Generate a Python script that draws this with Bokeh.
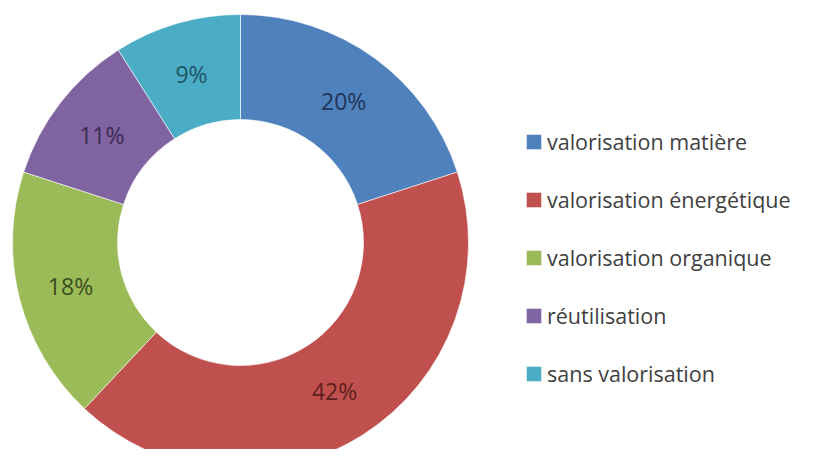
import math
from bokeh.plotting import figure
from bokeh.models import ColumnDataSource, Range1d, Legend, LegendItem
from bokeh.core.properties import value
from bokeh.embed import file_html
from bokeh.resources import INLINE

categories = ["valorisation matière", "valorisation énergétique", "valorisation organique",
              "réutilisation", "sans valorisation"]
values = [20, 42, 18, 11, 9]
colors = ["#4F81BD", "#C0504D", "#9BBB59", "#8064A2", "#4BACC6"]
label_colors = ["#1F3558", "#5E1F1D", "#3B4D1E", "#3A2A4E", "#1F5563"]

W, H = 797, 449
cx, cy = 240, 242
R_OUT, R_IN = 228, 123

total = sum(values)
starts, ends, lx, ly, texts = [], [], [], [], []
cum = 0.0
for v in values:
    a0 = math.pi / 2 - 2 * math.pi * cum / total
    a1 = math.pi / 2 - 2 * math.pi * (cum + v) / total
    mid = (a0 + a1) / 2
    starts.append(a0)
    ends.append(a1)
    r_mid = (R_OUT + R_IN) / 2
    lx.append(r_mid * math.cos(mid))
    ly.append(r_mid * math.sin(mid))
    texts.append(f"{v}%")
    cum += v

src = ColumnDataSource(dict(cat=categories, val=values, color=colors, start=starts, end=ends,
                            lx=lx, ly=ly, txt=texts, lcolor=label_colors))

p = figure(width=W, height=H, output_backend="svg", toolbar_location=None,
           x_range=Range1d(-cx, W - cx), y_range=Range1d(-(H - cy), cy),
           min_border=0, outline_line_color=None)
p.axis.visible = False
p.xgrid.visible = False
p.ygrid.visible = False
p.background_fill_color = "white"
p.border_fill_color = "white"

renderers = []
for i in range(len(values)):
    r = p.annular_wedge(x=0, y=0, inner_radius=R_IN, outer_radius=R_OUT,
                        start_angle=starts[i], end_angle=ends[i], direction="clock",
                        fill_color=colors[i], line_color="white", line_width=0.6)
    renderers.append(r)

p.text(x="lx", y="ly", text="txt", source=src, text_color="lcolor",
       text_font=value("Open Sans"), text_font_size="23px",
       text_align="center", text_baseline="middle")

legend = Legend(items=[LegendItem(label=categories[i], renderers=[renderers[i]]) for i in range(len(values))],
                location=(524, 59), orientation="vertical",
                glyph_width=19, glyph_height=19, label_standoff=4,
                label_text_font="Open Sans", label_text_font_size="21.5px",
                label_text_color="#404040", label_height=34, spacing=24,
                padding=0, margin=0, border_line_color=None, background_fill_alpha=0)
p.add_layout(legend)

open("out.html", "w").write(file_html(p, INLINE))
